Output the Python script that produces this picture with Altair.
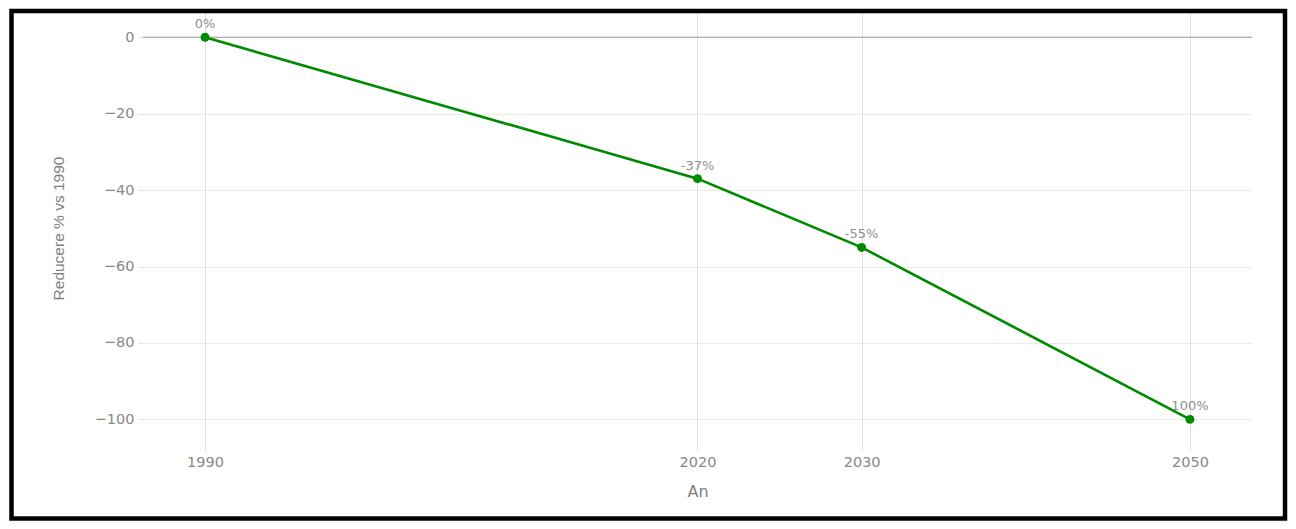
import altair as alt
import pandas as pd

years = [1990, 2020, 2030, 2050]
reduction = [0, -37, -55, -100]
point_labels = ["0%", "-37%", "-55%", "100%"]
y_ticks = [0, -20, -40, -60, -80, -100]

df = pd.DataFrame({"An": years, "Reducere": reduction, "label": point_labels})

W, H = 1109, 433
FONT = "DejaVu Sans"
GREEN = "#008a00"

x_enc = alt.X(
    "An:Q",
    scale=alt.Scale(domain=[1986.22, 2053.78], nice=False, zero=False),
    axis=alt.Axis(
        values=years, format="d", title="An", grid=True, gridColor="#e0e0e0",
        domain=False, ticks=True, tickSize=5, tickColor="#e0e0e0",
        labelPadding=5, labelFont=FONT, labelFontSize=14.5, labelColor="#888888",
        titleFont=FONT, titleFontSize=16, titleFontWeight="normal", titleColor="#808080",
        titleX=W / 2, titleY=46, titleBaseline="middle",
    ),
)
y_enc = alt.Y(
    "Reducere:Q",
    scale=alt.Scale(domain=[-106.7, 6.6], nice=False, zero=False),
    axis=alt.Axis(
        values=y_ticks, title="Reducere % vs 1990", grid=True, gridColor="#ebebeb",
        domain=False, ticks=True, tickSize=5, tickColor="#e0e0e0",
        labelPadding=4, labelFont=FONT, labelFontSize=14.5, labelColor="#888888",
        titleFont="Liberation Sans", titleFontSize=15.5,
        titleFontWeight="normal", titleColor="#808080",
        titleX=-85, titleY=216, titleAngle=-90, titleAlign="center", titleBaseline="middle",
    ),
)

base = alt.Chart(df)

zero_line = alt.Chart(pd.DataFrame({"z": [0]})).mark_rule(color="#9a9a9a", strokeWidth=1).encode(
    y=alt.Y("z:Q", scale=alt.Scale(domain=[-106.7, 6.6], nice=False, zero=False))
)

line = base.mark_line(color=GREEN, strokeWidth=2.6).encode(x=x_enc, y=y_enc)
pts = base.mark_circle(color=GREEN, size=80, opacity=1).encode(x="An:Q", y="Reducere:Q")
txt = base.mark_text(dy=-13, font=FONT, fontSize=13, color="#8f8f8f").encode(
    x="An:Q", y="Reducere:Q", text="label:N"
)

border = alt.Chart(pd.DataFrame({"b": [1]})).mark_rect(
    filled=False, stroke="black", strokeWidth=4.5, clip=False
).encode(
    x=alt.value(-131.5), x2=alt.value(1142), y=alt.value(-1), y2=alt.value(506.5)
)

chart = alt.layer(line, zero_line, pts, txt, border).properties(
    width=W, height=H,
    autosize=alt.AutoSizeParams(type="none"),
    padding={"left": 135, "top": 4, "right": 36, "bottom": 76},
).configure_view(stroke=None)

chart.save("out.html", embed_options={"renderer": "svg", "actions": False})
